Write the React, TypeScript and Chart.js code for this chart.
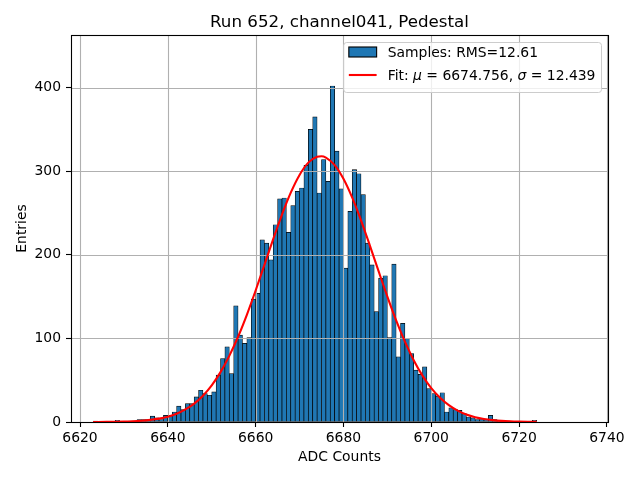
import { useEffect, useRef } from 'react'
import { Chart, registerables } from 'chart.js'

Chart.register(...registerables)

const TITLE = 'Run 652, channel041, Pedestal'
const X_LABEL = 'ADC Counts'
const Y_LABEL = 'Entries'
const SAMPLES_LABEL = 'Samples: RMS=12.61'
const FIT_MU = '6674.756'
const FIT_SIGMA = '12.439'

// histogram: one bin per ADC count, first bin starts at 6623
const BIN_LOW = 6623
const COUNTS = [
  1, 0, 0, 0, 0, 2, 0, 0, 1, 1,
  3, 3, 3, 7, 5, 3, 8, 8, 12, 19,
  15, 22, 22, 30, 38, 34, 32, 36, 56, 76,
  90, 58, 139, 104, 94, 101, 147, 154, 218, 214,
  194, 236, 267, 268, 227, 259, 276, 280, 307, 350,
  365, 274, 314, 288, 402, 324, 279, 184, 252, 302,
  297, 272, 214, 188, 132, 172, 175, 101, 189, 78,
  118, 100, 82, 62, 57, 66, 40, 34, 31, 35,
  12, 17, 15, 14, 10, 6, 5, 3, 4, 3,
  8, 3, 2, 1, 1, 0, 0, 0, 0, 0,
  2,
]

// gaussian fit curve
const FIT_X = [
  6623, 6624, 6626, 6628, 6630, 6632, 6634, 6636, 6638, 6640,
  6642, 6644, 6646, 6648, 6650, 6652, 6654, 6656, 6658, 6660,
  6662, 6664, 6666, 6668, 6670, 6672, 6674, 6675, 6676, 6678,
  6680, 6682, 6684, 6686, 6688, 6690, 6692, 6694, 6696, 6698,
  6700, 6702, 6704, 6706, 6708, 6710, 6712, 6714, 6716, 6718,
  6720, 6722, 6724,
]
const FIT_Y = [
  0.06, 0.08, 0.15, 0.27, 0.49, 0.86, 1.5, 2.5, 4.0, 6.4,
  9.9, 15.0, 22.0, 31.5, 43.9, 59.7, 79.1, 102.0, 128.3, 157.3,
  188.0, 218.8, 248.2, 274.4, 295.6, 310.3, 317.4, 318.0, 316.4, 307.4,
  291.0, 268.4, 241.3, 211.3, 180.4, 150.1, 121.6, 96.1, 74.0, 55.5,
  40.5, 28.9, 20.1, 13.6, 8.9, 5.7, 3.6, 2.2, 1.3, 0.75,
  0.43, 0.23, 0.13,
]

const X_TICKS = [6620, 6640, 6660, 6680, 6700, 6720, 6740]
const Y_TICKS = [0, 100, 200, 300, 400]

const FONT = 'DejaVu Sans'
const BAR_BLUE = '#1f77b4'

const decorPlugin = {
  id: 'mplDecor',
  // grid goes over the bars but under the fit line, like matplotlib
  afterDatasetDraw(chart: any, args: any) {
    if (args.index !== 0) return
    const { ctx, chartArea: a, scales } = chart
    ctx.save()
    ctx.strokeStyle = '#b0b0b0'
    ctx.lineWidth = 1.1
    ctx.beginPath()
    for (const t of scales.x.ticks) {
      const px = Math.round(scales.x.getPixelForValue(t.value)) + 0.5
      ctx.moveTo(px, a.top)
      ctx.lineTo(px, a.bottom)
    }
    for (const t of scales.y.ticks) {
      const py = Math.round(scales.y.getPixelForValue(t.value)) + 0.5
      ctx.moveTo(a.left, py)
      ctx.lineTo(a.right, py)
    }
    ctx.stroke()
    ctx.restore()
  },
  afterDatasetsDraw(chart: any) {
    const { ctx, chartArea: a } = chart
    ctx.save()
    ctx.strokeStyle = '#000'
    ctx.lineWidth = 1.1
    ctx.strokeRect(a.left + 0.5, a.top + 0.5, a.right - a.left, a.bottom - a.top)
    ctx.restore()
  },
  afterDraw(chart: any) {
    const { ctx, chartArea: a } = chart
    ctx.save()

    // title
    ctx.fillStyle = '#000'
    ctx.font = `16.7px "${FONT}"`
    ctx.textAlign = 'center'
    ctx.textBaseline = 'alphabetic'
    ctx.fillText(TITLE, (a.left + a.right) / 2, 27)

    // legend
    const fs = 13.9
    const normal = `${fs}px "${FONT}"`
    const italic = `italic ${fs}px "${FONT}"`
    const parts: [string, string][] = [
      ['Fit: ', normal],
      ['\u03bc', italic],
      [` = ${FIT_MU}, `, normal],
      ['\u03c3', italic],
      [` = ${FIT_SIGMA}`, normal],
    ]
    let fitW = 0
    for (const [s, f] of parts) {
      ctx.font = f
      fitW += ctx.measureText(s).width
    }
    ctx.font = normal
    const textW = Math.max(fitW, ctx.measureText(SAMPLES_LABEL).width)
    const pad = 5.6
    const handleW = 27.8
    const gap = 11.1
    const boxR = a.right - 7
    const boxT = a.top + 7
    const boxW = pad + handleW + gap + textW + pad
    const boxL = boxR - boxW
    const boxB = boxT + 50

    ctx.beginPath()
    ctx.roundRect(boxL + 0.5, boxT + 0.5, boxW, boxB - boxT, 3)
    ctx.fillStyle = 'rgba(255,255,255,0.8)'
    ctx.fill()
    ctx.strokeStyle = '#cccccc'
    ctx.lineWidth = 1
    ctx.stroke()

    const hx = boxL + pad
    const tx = hx + handleW + gap
    const base1 = boxT + 15
    const base2 = boxT + 38

    ctx.fillStyle = BAR_BLUE
    ctx.fillRect(hx, base1 - 10, handleW, 10)
    ctx.strokeStyle = '#000'
    ctx.lineWidth = 1.1
    ctx.strokeRect(hx, base1 - 10, handleW, 10)

    ctx.strokeStyle = '#ff0000'
    ctx.lineWidth = 2.1
    ctx.beginPath()
    ctx.moveTo(hx, base2 - 5)
    ctx.lineTo(hx + handleW, base2 - 5)
    ctx.stroke()

    ctx.fillStyle = '#000'
    ctx.textAlign = 'left'
    ctx.textBaseline = 'alphabetic'
    ctx.font = normal
    ctx.fillText(SAMPLES_LABEL, tx, base1)
    let cx = tx
    for (const [s, f] of parts) {
      ctx.font = f
      ctx.fillText(s, cx, base2)
      cx += ctx.measureText(s).width
    }
    ctx.restore()
  },
}

export default function App() {
  const canvasRef = useRef<HTMLCanvasElement>(null)
  const chartRef = useRef<Chart | null>(null)

  useEffect(() => {
    if (!canvasRef.current) return
    if (chartRef.current) chartRef.current.destroy()

    const tickFont = { family: FONT, size: 13.9 }

    chartRef.current = new Chart(canvasRef.current, {
      type: 'bar',
      data: {
        datasets: [
          {
            type: 'bar',
            label: SAMPLES_LABEL,
            data: COUNTS.map((c, i) => ({ x: BIN_LOW + i + 0.5, y: c })),
            backgroundColor: BAR_BLUE,
            borderColor: '#000',
            borderWidth: 0.7,
            borderSkipped: false,
            barPercentage: 1,
            categoryPercentage: 1,
            order: 2,
          },
          {
            type: 'line',
            label: 'Fit',
            data: FIT_X.map((x, i) => ({ x, y: FIT_Y[i] })),
            borderColor: '#ff0000',
            borderWidth: 2.1,
            pointRadius: 0,
            fill: false,
            cubicInterpolationMode: 'monotone',
            order: 1,
          },
        ],
      } as any,
      plugins: [decorPlugin],
      options: {
        responsive: false,
        animation: false,
        layout: { padding: { top: 35, right: 32, bottom: 0, left: 0 } },
        plugins: {
          legend: { display: false },
          title: { display: false },
          tooltip: { enabled: false },
        },
        scales: {
          x: {
            type: 'linear',
            min: 6617.95,
            max: 6740.25,
            offset: false,
            afterBuildTicks: (s: any) => {
              s.ticks = X_TICKS.map((value) => ({ value }))
            },
            afterFit: (s: any) => {
              s.height = 58
            },
            ticks: {
              callback: (v: any) => String(v),
              font: tickFont,
              color: '#000',
              padding: 3,
              maxRotation: 0,
              autoSkip: false,
            },
            grid: {
              offset: false,
              drawOnChartArea: false,
              drawTicks: true,
              tickLength: 5,
              tickColor: '#000',
              tickWidth: 1.1,
            },
            border: { display: false },
            title: {
              display: true,
              text: X_LABEL,
              font: tickFont,
              color: '#000',
              padding: { top: 0, bottom: 14.6 },
            },
          },
          y: {
            type: 'linear',
            min: 0,
            max: 463,
            afterBuildTicks: (s: any) => {
              s.ticks = Y_TICKS.map((value) => ({ value }))
            },
            afterFit: (s: any) => {
              s.width = 71
            },
            ticks: {
              callback: (v: any) => String(v),
              font: tickFont,
              color: '#000',
              padding: 5,
            },
            grid: {
              offset: false,
              drawOnChartArea: false,
              drawTicks: true,
              tickLength: 5,
              tickColor: '#000',
              tickWidth: 1.1,
            },
            border: { display: false },
            title: {
              display: true,
              text: Y_LABEL,
              font: tickFont,
              color: '#000',
              padding: { top: 13.6, bottom: 0 },
            },
          },
        },
      } as any,
    })

    return () => {
      if (chartRef.current) {
        chartRef.current.destroy()
        chartRef.current = null
      }
    }
  }, [])

  return (
    <div
      style={{
        position: 'absolute',
        left: 0,
        top: 0,
        width: 640,
        height: 480,
        background: '#fff',
      }}
    >
      <canvas ref={canvasRef} width={640} height={480} />
    </div>
  )
}
